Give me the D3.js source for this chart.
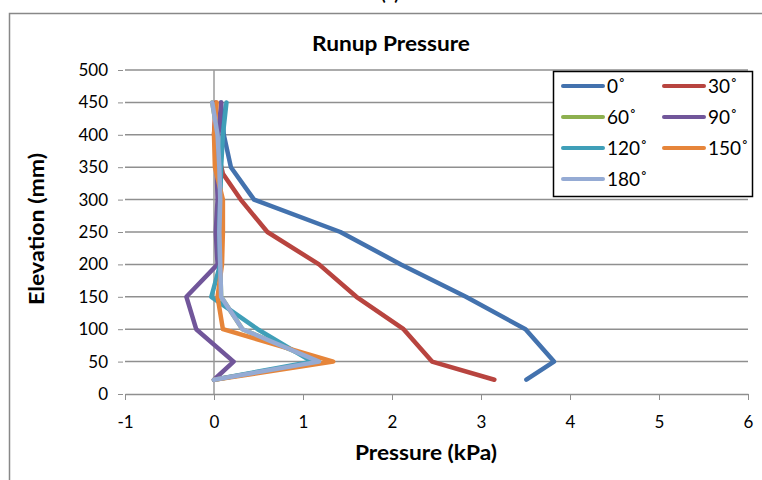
<!DOCTYPE html>
<html>
<head>
<meta charset="utf-8">
<script src="https://cdn.jsdelivr.net/npm/d3@7"></script>
<style>
  html, body { margin: 0; padding: 0; background: #fff; }
  svg { display: block; }
  text { font-family: Lato, "Open Sans", "Liberation Sans", sans-serif; fill: #000; }
</style>
</head>
<body>
<svg id="chart" width="762" height="480"></svg>
<script>
// Elevation levels (mm) at which pressure was sampled
const elevation = [22, 50, 100, 150, 200, 250, 300, 350, 400, 450];
const elevation30 = [22, 50, 100, 150, 200, 250, 300, 340, 400, 450];

// Runup pressure (kPa) for each wave angle
const p0   = [3.51, 3.82, 3.50, 2.83, 2.10, 1.42, 0.45, 0.19, 0.11, 0.08];
const p30  = [3.15, 2.45, 2.13, 1.60, 1.18, 0.60, 0.30, 0.10, 0.00, 0.02];
const p60  = [0.00, 1.18, 0.32, 0.08, 0.07, 0.06, 0.07, 0.06, 0.04, -0.02];
const p90  = [0.00, 0.22, -0.20, -0.31, 0.04, 0.02, 0.04, 0.03, 0.05, 0.08];
const p120 = [0.00, 1.10, 0.49, -0.03, 0.07, 0.06, 0.07, 0.08, 0.10, 0.14];
const p150 = [0.00, 1.34, 0.10, 0.04, 0.09, 0.10, 0.10, 0.01, 0.00, 0.03];
const p180 = [0.00, 1.18, 0.32, 0.08, 0.07, 0.06, 0.07, 0.06, 0.04, -0.02];

const seriesNames = ["0˚", "30˚", "60˚", "90˚", "120˚", "150˚", "180˚"];
const seriesColors = ["#4372AE", "#B8443F", "#8DB04F", "#71569A", "#3F9FB8", "#E6853A", "#95ABD4"];
const seriesValues = [p0, p30, p60, p90, p120, p150, p180];
const seriesElev = [elevation, elevation30, elevation, elevation, elevation, elevation, elevation];

const xTicks = [-1, 0, 1, 2, 3, 4, 5, 6];
const yTicks = [0, 50, 100, 150, 200, 250, 300, 350, 400, 450, 500];

const svg = d3.select("#chart");

// Chart frame
svg.append("rect")
  .attr("x", 9.5).attr("y", 13.5)
  .attr("width", 780).attr("height", 500)
  .attr("fill", "#fff").attr("stroke", "#888").attr("stroke-width", 1.5);

// Panel letter above the frame
svg.append("text")
  .attr("x", 390).attr("y", 0)
  .attr("text-anchor", "middle")
  .style("font-size", "18px").style("font-weight", "bold")
  .text("(a)");

const x = d3.scaleLinear().domain([-1, 6]).range([125, 748]);
const y = d3.scaleLinear().domain([0, 500]).range([394, 70]);

// Horizontal gridlines
svg.append("g")
  .selectAll("line")
  .data(yTicks.filter(d => d > 0))
  .join("line")
  .attr("x1", x(-1)).attr("x2", x(6))
  .attr("y1", d => y(d)).attr("y2", d => y(d))
  .attr("stroke", "#8f8f8f").attr("stroke-width", 1.5);

// Vertical value axis at zero pressure
svg.append("line")
  .attr("x1", x(0)).attr("x2", x(0))
  .attr("y1", y(500)).attr("y2", y(0))
  .attr("stroke", "#9a9a9a").attr("stroke-width", 1.5);

// Y axis: labels and ticks on the left edge
const yAxis = d3.axisLeft(y).tickValues(yTicks).tickSize(5).tickPadding(10);
const gy = svg.append("g").attr("transform", `translate(${x(-1) - 2},0)`).call(yAxis);
gy.select(".domain").remove();
gy.selectAll(".tick line").attr("stroke", "#8f8f8f").attr("stroke-width", 1);
gy.selectAll(".tick text").style("font-size", "17px").attr("fill", "#000");

// X axis along elevation zero
const xAxis = d3.axisBottom(x).tickValues(xTicks).tickFormat(d => String(d))
  .tickSize(6).tickPadding(16).tickSizeOuter(0);
const gx = svg.append("g").attr("transform", `translate(0,${y(0)})`).call(xAxis);
gx.select(".domain").attr("stroke", "#8f8f8f").attr("stroke-width", 1.5);
gx.selectAll(".tick line").attr("stroke", "#8f8f8f").attr("stroke-width", 1);
gx.selectAll(".tick text").style("font-size", "17px").attr("fill", "#000");

// Series lines
const line = d3.line().x(d => x(d[0])).y(d => y(d[1]));
seriesValues.forEach((vals, i) => {
  const pts = vals.map((v, j) => [v, seriesElev[i][j]]);
  svg.append("path")
    .datum(pts)
    .attr("d", line)
    .attr("fill", "none")
    .attr("stroke", seriesColors[i])
    .attr("stroke-width", 4.5)
    .attr("stroke-linejoin", "round")
    .attr("stroke-linecap", "round");
});

// Title and axis titles
svg.append("text")
  .attr("x", 391).attr("y", 51)
  .attr("text-anchor", "middle")
  .attr("textLength", 158).attr("lengthAdjust", "spacingAndGlyphs")
  .style("font-size", "20px").style("font-weight", "bold")
  .text("Runup Pressure");

svg.append("text")
  .attr("x", 426).attr("y", 460)
  .attr("text-anchor", "middle")
  .attr("textLength", 142).attr("lengthAdjust", "spacingAndGlyphs")
  .style("font-size", "20px").style("font-weight", "bold")
  .text("Pressure (kPa)");

svg.append("text")
  .attr("transform", "translate(44,229) rotate(-90)")
  .attr("text-anchor", "middle")
  .attr("textLength", 152).attr("lengthAdjust", "spacingAndGlyphs")
  .style("font-size", "20px").style("font-weight", "bold")
  .text("Elevation (mm)");

// Legend
const legend = svg.append("g");
legend.append("rect")
  .attr("x", 553.5).attr("y", 71.5)
  .attr("width", 199).attr("height", 125)
  .attr("fill", "#fff").attr("stroke", "#000").attr("stroke-width", 1.5);

seriesNames.forEach((name, i) => {
  const col = i % 2, row = Math.floor(i / 2);
  const lx = 563 + col * 101;
  const ly = 86 + row * 31;
  legend.append("line")
    .attr("x1", lx).attr("x2", lx + 40)
    .attr("y1", ly).attr("y2", ly)
    .attr("stroke", seriesColors[i]).attr("stroke-width", 4)
    .attr("stroke-linecap", "round");
  legend.append("text")
    .attr("x", lx + 44).attr("y", ly + 7)
    .style("font-size", "19px")
    .text(name);
});
</script>
</body>
</html>
